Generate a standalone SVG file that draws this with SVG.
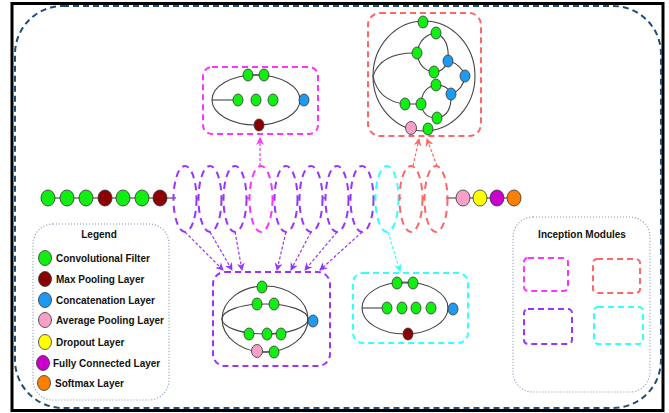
<svg xmlns="http://www.w3.org/2000/svg" width="669" height="413" viewBox="0 0 669 413">
<style>
.n{stroke:#333;stroke-width:0.8}
.g{fill:#11ee11}.m{fill:#8b0000}.b{fill:#1e9bf0}.p{fill:#f7a0c8}.y{fill:#ffff00}.f{fill:#cc00cc}.o{fill:#ff8000}
.ln{fill:none;stroke:#444;stroke-width:1.1}
.box{fill:none;stroke-width:2;stroke-dasharray:6,4}
.el{fill:none;stroke-width:2;stroke-dasharray:7,5}
.ar{fill:none;stroke-width:1.2;stroke-dasharray:3,2}
.cm{stroke:#ff33ff}.cr{stroke:#ff6666}.cp{stroke:#9933ff}.cc{stroke:#33ffff}
.t{font-family:"Liberation Sans",Arial,sans-serif;font-weight:bold;font-size:10px;fill:#111}
.leg{fill:none;stroke:#7a90b0;stroke-width:1.1;stroke-dasharray:1,2}
</style>
<defs>
<marker id="am" markerWidth="8" markerHeight="8" refX="7" refY="4" orient="auto" markerUnits="userSpaceOnUse"><path d="M0,0 L8,4 L0,8 L2.5,4 z" fill="#ff33ff"/></marker>
<marker id="arr" markerWidth="8" markerHeight="8" refX="7" refY="4" orient="auto" markerUnits="userSpaceOnUse"><path d="M0,0 L8,4 L0,8 L2.5,4 z" fill="#ff6666"/></marker>
<marker id="ap" markerWidth="8" markerHeight="8" refX="7" refY="4" orient="auto" markerUnits="userSpaceOnUse"><path d="M0,0 L8,4 L0,8 L2.5,4 z" fill="#9933ff"/></marker>
<marker id="ac" markerWidth="8" markerHeight="8" refX="7" refY="4" orient="auto" markerUnits="userSpaceOnUse"><path d="M0,0 L8,4 L0,8 L2.5,4 z" fill="#33ffff"/></marker>
</defs>
<rect x="0" y="0" width="669" height="413" fill="#fff"/>
<rect x="12" y="3.5" width="651" height="407" fill="none" stroke="#000" stroke-width="3"/>
<rect x="15" y="6" width="646" height="402" rx="48" fill="none" stroke="#1f4e79" stroke-width="2" stroke-dasharray="6,4"/>

<g id="connectors">
<line x1="48" y1="198" x2="176" y2="198" stroke="#333" stroke-width="1.2"/>
<line x1="446" y1="198" x2="513" y2="198" stroke="#333" stroke-width="1.2"/>
<path d="M196,198h3M221,198h3M246,198h3M272,198h3M297,198h3M322,198h3M348,198h3M373,198h3M398,198h3M422,198h3" stroke="#333" stroke-width="1.2"/>
<line class="ar cm" x1="260" y1="166" x2="260" y2="138" marker-end="url(#am)"/>
<line class="ar cr" x1="413" y1="166" x2="419" y2="139" marker-end="url(#arr)"/>
<line class="ar cr" x1="437" y1="166" x2="427" y2="139" marker-end="url(#arr)"/>
<line class="ar cp" x1="185" y1="232" x2="223" y2="270" marker-end="url(#ap)"/>
<line class="ar cp" x1="210" y1="232" x2="232" y2="270" marker-end="url(#ap)"/>
<line class="ar cp" x1="235" y1="232" x2="242" y2="270" marker-end="url(#ap)"/>
<line class="ar cp" x1="286" y1="232" x2="277" y2="270" marker-end="url(#ap)"/>
<line class="ar cp" x1="311" y1="232" x2="291" y2="270" marker-end="url(#ap)"/>
<line class="ar cp" x1="337" y1="232" x2="305" y2="270" marker-end="url(#ap)"/>
<line class="ar cp" x1="362" y1="232" x2="320" y2="270" marker-end="url(#ap)"/>
<line class="ar cc" x1="388" y1="232" x2="400" y2="271" marker-end="url(#ac)"/>
</g>

<g id="chain-start">
<ellipse class="n g" cx="48" cy="198" rx="7" ry="8"/>
<ellipse class="n g" cx="67" cy="198" rx="7" ry="8"/>
<ellipse class="n g" cx="86" cy="198" rx="7" ry="8"/>
<ellipse class="n m" cx="105" cy="198" rx="7" ry="8"/>
<ellipse class="n g" cx="123" cy="198" rx="7" ry="8"/>
<ellipse class="n g" cx="142" cy="198" rx="7" ry="8"/>
<ellipse class="n m" cx="160" cy="198" rx="7" ry="8"/>
</g>

<g id="chain-modules">
<ellipse class="el cp" cx="185" cy="199" rx="11.5" ry="33"/>
<ellipse class="el cp" cx="210" cy="199" rx="11.5" ry="33"/>
<ellipse class="el cp" cx="235" cy="199" rx="11.5" ry="33"/>
<ellipse class="el cm" cx="261" cy="199" rx="11.5" ry="33"/>
<ellipse class="el cp" cx="286" cy="199" rx="11.5" ry="33"/>
<ellipse class="el cp" cx="311" cy="199" rx="11.5" ry="33"/>
<ellipse class="el cp" cx="337" cy="199" rx="11.5" ry="33"/>
<ellipse class="el cp" cx="362" cy="199" rx="11.5" ry="33"/>
<ellipse class="el cc" cx="387" cy="199" rx="11.5" ry="33"/>
<ellipse class="el cr" cx="411" cy="199" rx="11.5" ry="33"/>
<ellipse class="el cr" cx="436" cy="199" rx="11.5" ry="33"/>
</g>

<g id="chain-end">
<ellipse class="n p" cx="463" cy="198" rx="7" ry="8"/>
<ellipse class="n y" cx="480" cy="198" rx="7" ry="8"/>
<ellipse class="n f" cx="497" cy="198" rx="7" ry="8"/>
<ellipse class="n o" cx="514" cy="198" rx="7" ry="8"/>
</g>

<g id="module-magenta">
<rect class="box cm" x="203" y="67" width="115" height="67" rx="9"/>
<ellipse class="ln" cx="256" cy="100" rx="44" ry="25"/>
<line class="ln" x1="212" y1="100" x2="238" y2="100"/>
<line class="ln" x1="248" y1="75" x2="264" y2="75"/>
<ellipse class="n g" cx="248" cy="75" rx="5" ry="6"/>
<ellipse class="n g" cx="264" cy="75" rx="5" ry="6"/>
<ellipse class="n g" cx="238" cy="100" rx="5" ry="6"/>
<ellipse class="n g" cx="256" cy="100" rx="5" ry="6"/>
<ellipse class="n g" cx="273" cy="100" rx="5" ry="6"/>
<ellipse class="n b" cx="304" cy="100" rx="5" ry="6"/>
<ellipse class="n m" cx="259" cy="125" rx="5" ry="6"/>
</g>

<g id="module-red">
<rect class="box cr" x="368" y="13" width="113" height="123" rx="12"/>
<ellipse class="ln" cx="424" cy="76" rx="51" ry="55"/>
<path class="ln" d="M417,53 Q381,52 373,76 Q378,101 405,104 L421,104"/>
<path class="ln" d="M417,53 Q420,35 436,33 Q450,39 448,61 Q444,72 434,72 Q419,70 417,53"/>
<path class="ln" d="M448,61 Q461,64 465,76 Q463,90 451,94"/>
<path class="ln" d="M421,104 Q422,87 436,85 Q448,85 451,94 Q452,116 437,118 Q423,118 421,104"/>
<ellipse class="n g" cx="423" cy="22" rx="5" ry="6"/>
<ellipse class="n g" cx="436" cy="33" rx="5" ry="6"/>
<ellipse class="n g" cx="417" cy="53" rx="5" ry="6"/>
<ellipse class="n b" cx="448" cy="61" rx="5" ry="6"/>
<ellipse class="n g" cx="434" cy="72" rx="5" ry="6"/>
<ellipse class="n b" cx="465" cy="76" rx="5" ry="6"/>
<ellipse class="n g" cx="436" cy="85" rx="5" ry="6"/>
<ellipse class="n b" cx="451" cy="94" rx="5" ry="6"/>
<ellipse class="n g" cx="405" cy="104" rx="5" ry="6"/>
<ellipse class="n g" cx="421" cy="104" rx="5" ry="6"/>
<ellipse class="n g" cx="437" cy="118" rx="5" ry="6"/>
<ellipse class="n p" cx="411" cy="128" rx="5.5" ry="6.5"/>
<ellipse class="n g" cx="428" cy="129" rx="5" ry="6"/>
</g>

<g id="module-purple">
<rect class="box cp" x="213" y="272" width="117" height="94" rx="12"/>
<ellipse class="ln" cx="265" cy="319" rx="43" ry="33"/>
<ellipse class="ln" cx="265" cy="319" rx="43" ry="15"/>
<line class="ln" x1="257" y1="352" x2="274" y2="352"/>
<ellipse class="n g" cx="262" cy="287" rx="5" ry="6"/>
<ellipse class="n g" cx="257" cy="304" rx="5" ry="6"/>
<ellipse class="n g" cx="274" cy="304" rx="5" ry="6"/>
<ellipse class="n g" cx="249" cy="334" rx="5" ry="6"/>
<ellipse class="n g" cx="267" cy="334" rx="5" ry="6"/>
<ellipse class="n g" cx="281" cy="334" rx="5" ry="6"/>
<ellipse class="n p" cx="257" cy="351" rx="5.5" ry="6.5"/>
<ellipse class="n g" cx="274" cy="352" rx="5" ry="6"/>
<ellipse class="n b" cx="313" cy="321" rx="5" ry="6"/>
</g>

<g id="module-cyan">
<rect class="box cc" x="353" y="273" width="115" height="70" rx="10"/>
<ellipse class="ln" cx="405" cy="308" rx="43" ry="26"/>
<line class="ln" x1="362" y1="308" x2="387" y2="308"/>
<line class="ln" x1="397" y1="283" x2="413" y2="283"/>
<ellipse class="n g" cx="397" cy="283" rx="5" ry="6"/>
<ellipse class="n g" cx="413" cy="283" rx="5" ry="6"/>
<ellipse class="n g" cx="387" cy="308" rx="5" ry="6"/>
<ellipse class="n g" cx="402" cy="308" rx="5" ry="6"/>
<ellipse class="n g" cx="416" cy="308" rx="5" ry="6"/>
<ellipse class="n g" cx="431" cy="308" rx="5" ry="6"/>
<ellipse class="n b" cx="453" cy="309" rx="5" ry="6"/>
<ellipse class="n m" cx="408" cy="334" rx="5" ry="6"/>
</g>

<g id="legend">
<rect class="leg" x="33" y="224" width="136" height="176" rx="20"/>
<text class="t" x="99" y="238" text-anchor="middle" font-size="11">Legend</text>
<ellipse class="n g" cx="45" cy="258" rx="6.5" ry="7.5"/>
<text class="t" x="56" y="262">Convolutional Filter</text>
<ellipse class="n m" cx="45" cy="279" rx="6.5" ry="7.5"/>
<text class="t" x="56" y="283">Max Pooling Layer</text>
<ellipse class="n b" cx="45" cy="300" rx="6.5" ry="7.5"/>
<text class="t" x="56" y="304">Concatenation Layer</text>
<ellipse class="n p" cx="45" cy="320" rx="6.5" ry="7.5"/>
<text class="t" x="56" y="324">Average Pooling Layer</text>
<ellipse class="n y" cx="45" cy="342" rx="6.5" ry="7.5"/>
<text class="t" x="56" y="346">Dropout Layer</text>
<ellipse class="n f" cx="43" cy="363" rx="6.5" ry="7.5"/>
<text class="t" x="53" y="367">Fully Connected Layer</text>
<ellipse class="n o" cx="44" cy="383" rx="6.5" ry="7.5"/>
<text class="t" x="55" y="387">Softmax Layer</text>
</g>

<g id="inception-legend">
<rect class="leg" x="513" y="217" width="137" height="175" rx="20"/>
<text class="t" x="582" y="238" text-anchor="middle">Inception Modules</text>
<rect class="box cm" x="524" y="258" width="44" height="33" rx="4"/>
<rect class="box cr" x="593" y="259" width="47" height="34" rx="4"/>
<rect class="box cp" x="524" y="309" width="48" height="35" rx="4"/>
<rect class="box cc" x="594" y="307" width="49" height="37" rx="4"/>
</g>
</svg>
